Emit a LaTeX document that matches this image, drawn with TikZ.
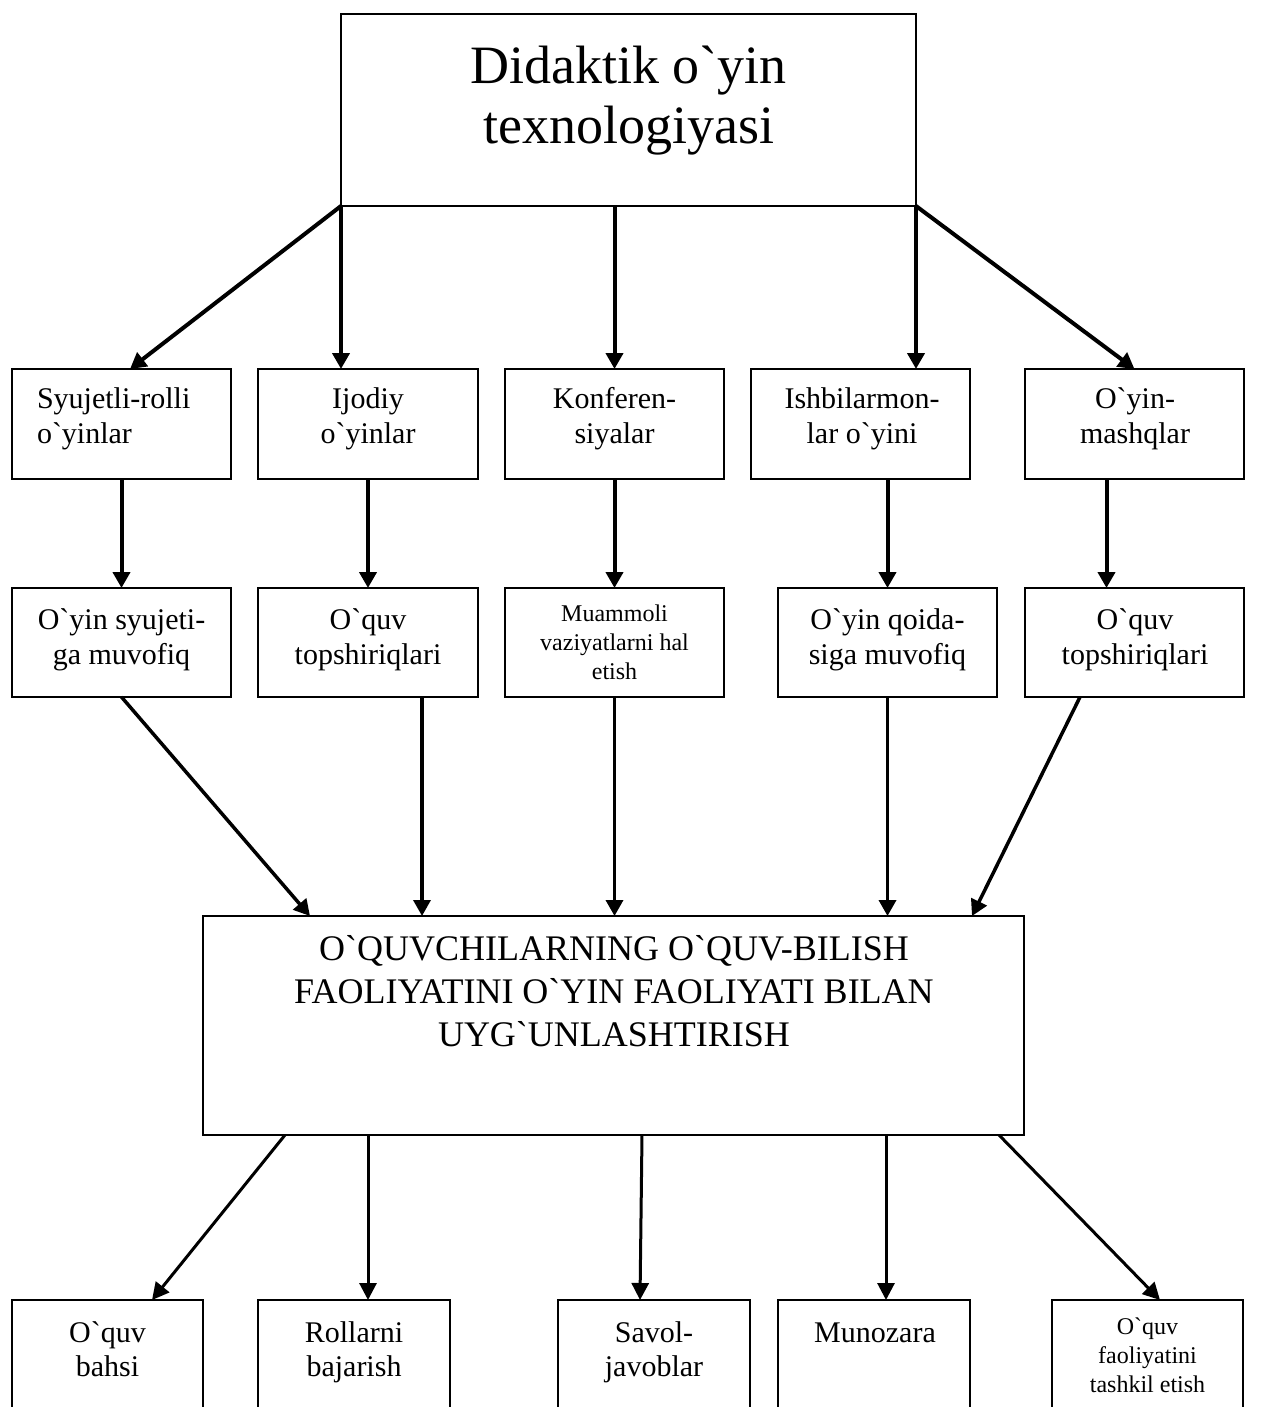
\documentclass[tikz,border=0pt]{standalone}
\usepackage{fontspec}
\setmainfont{Liberation Serif}[Ligatures=TeXOff]
\usetikzlibrary{arrows.meta,calc}
\newcommand\fsT{\fontsize{54}{60}\selectfont}
\newcommand\fsA{\fontsize{30}{35}\selectfont}
\newcommand\fsB{\fontsize{24}{29}\selectfont}
\newcommand\fsM{\fontsize{36}{43}\selectfont}
\newcommand\fsC{\fontsize{30}{34}\selectfont}
\tikzset{
  boxA/.style={draw, line width=2pt, inner sep=0pt, outer sep=0pt, rectangle},
  boxB/.style={draw, line width=2pt, inner sep=0pt, outer sep=0pt, rectangle},
  txt/.style={inner sep=0pt, outer sep=0pt, anchor=north, align=center},
  arrA/.style={line width=4pt, -{Triangle[length=16pt,width=17pt]}},
  arrM/.style={line width=3.5pt, -{Triangle[length=16pt,width=17pt]}},
  arrB/.style={line width=3pt, -{Triangle[length=17pt,width=17pt]}},
}
\begin{document}
\begin{tikzpicture}[x=1pt,y=-1pt]
\useasboundingbox (0,0) rectangle (1264,1407);
\clip (0,0) rectangle (1264,1407);
\fill[white] (0,0) rectangle (1264,1407);

% top box
\node[boxA, minimum width=575pt, minimum height=192pt] (t) at (628.5,110) {};
\node[txt, font=\fsT] (tt) at (628.5,42) {\strut Didaktik o`yin\\\strut texnologiyasi};

% row 1
\node[boxA, minimum width=219pt, minimum height=110pt] (r1a) at (121.5,424) {};
\node[boxA, minimum width=220pt, minimum height=110pt] (r1b) at (368,424) {};
\node[boxA, minimum width=219pt, minimum height=110pt] (r1c) at (614.5,424) {};
\node[boxA, minimum width=219pt, minimum height=110pt] (r1d) at (860.5,424) {};
\node[boxA, minimum width=219pt, minimum height=110pt] (r1e) at (1134.5,424) {};
\node[txt, font=\fsA, anchor=north west, align=left] (r1at) at (37,383.5) {\strut Syujetli-rolli\\\strut o`yinlar};
\node[txt, font=\fsA] (r1bt) at (368,383.5) {\strut Ijodiy\\\strut o`yinlar};
\node[txt, font=\fsA] (r1ct) at (614.5,383.5) {\strut Konferen-\\\strut siyalar};
\node[txt, font=\fsA] (r1dt) at (862,383.5) {\strut Ishbilarmon-\\\strut lar o`yini};
\node[txt, font=\fsA] (r1et) at (1135,383.5) {\strut O`yin-\\\strut mashqlar};

% row 2
\node[boxA, minimum width=219pt, minimum height=109pt] (r2a) at (121.5,642.5) {};
\node[boxA, minimum width=220pt, minimum height=109pt] (r2b) at (368,642.5) {};
\node[boxA, minimum width=219pt, minimum height=109pt] (r2c) at (614.5,642.5) {};
\node[boxA, minimum width=219pt, minimum height=109pt] (r2d) at (887.5,642.5) {};
\node[boxA, minimum width=219pt, minimum height=109pt] (r2e) at (1134.5,642.5) {};
\node[txt, font=\fsA] (r2at) at (121.5,604.5) {\strut O`yin syujeti-\\\strut ga muvofiq};
\node[txt, font=\fsA] (r2bt) at (368,604.5) {\strut O`quv\\\strut topshiriqlari};
\node[txt, font=\fsB] (r2ct) at (614.5,600.7) {\strut Muammoli\\\strut vaziyatlarni hal\\\strut etish};
\node[txt, font=\fsA] (r2dt) at (887.5,604.5) {\strut O`yin qoida-\\\strut siga muvofiq};
\node[txt, font=\fsA] (r2et) at (1135,604.5) {\strut O`quv\\\strut topshiriqlari};

% middle box
\node[boxA, minimum width=821pt, minimum height=219pt] (m) at (613.5,1025.5) {};
\node[txt, font=\fsM] (mt) at (614,929.9) {\strut O`QUVCHILARNING O`QUV-BILISH\\\strut FAOLIYATINI O`YIN FAOLIYATI BILAN\\\strut UYG`UNLASHTIRISH};

% bottom boxes
\node[boxB, minimum width=191pt, minimum height=150pt] (b1) at (107.5,1375) {};
\node[boxB, minimum width=192pt, minimum height=150pt] (b2) at (354,1375) {};
\node[boxB, minimum width=192pt, minimum height=150pt] (b3) at (654,1375) {};
\node[boxB, minimum width=192pt, minimum height=150pt] (b4) at (874,1375) {};
\node[boxB, minimum width=191pt, minimum height=150pt] (b5) at (1147.5,1375) {};
\node[txt, font=\fsC] (b1t) at (107.5,1318.2) {\strut O`quv\\\strut bahsi};
\node[txt, font=\fsC] (b2t) at (354,1318.2) {\strut Rollarni\\\strut bajarish};
\node[txt, font=\fsC] (b3t) at (654,1318.2) {\strut Savol-\\\strut javoblar};
\node[txt, font=\fsC] (b4t) at (875,1318.2) {\strut Munozara};
\node[txt, font=\fsB] (b5t) at (1147.5,1313.7) {\strut O`quv\\\strut faoliyatini\\\strut tashkil etish};

% arrows top -> row 1
\draw[arrA] (t.south west) -- ([xshift=8.5pt]r1a.north);
\draw[arrA] (t.south west) -- (t.south west |- r1b.north);
\draw[arrA] (r1c.north |- t.south) -- (r1c.north);
\draw[arrA] (t.south east) -- (t.south east |- r1d.north);
\draw[arrA] (t.south east) -- (r1e.north);

% row 1 -> row 2
\draw[arrA] (r1a.south) -- (r2a.north);
\draw[arrA] (r1b.south) -- (r2b.north);
\draw[arrA] (r1c.south) -- (r2c.north);
\draw[arrA] (r2d.north |- r1d.south) -- (r2d.north);
\draw[arrA] ([xshift=-28pt]r1e.south) -- ([xshift=-28pt]r2e.north);

% row 2 -> middle
\draw[arrM] (r2a.south) -- ([xshift=107pt]m.north west);
\draw[arrM] ([xshift=54pt]r2b.south) -- ([xshift=54pt]r2b.south |- m.north);
\draw[arrM] (r2c.south) -- (r2c.south |- m.north);
\draw[arrM] (r2d.south) -- (r2d.south |- m.north);
\draw[arrM] ([xshift=-54.5pt]r2e.south) -- ([xshift=-52pt]m.north east);

% middle -> bottom
\draw[arrB] ([xshift=82pt]m.south west) -- ([xshift=44.5pt]b1.north);
\draw[arrB] ([xshift=14pt]b2.north |- m.south) -- ([xshift=14pt]b2.north);
\draw[arrB] ([xshift=439pt]m.south west) -- ([xshift=-14pt]b3.north);
\draw[arrB] ([xshift=12pt]b4.north |- m.south) -- ([xshift=12pt]b4.north);
\draw[arrB] ([xshift=-25pt]m.south east) -- ([xshift=12.5pt]b5.north);
\end{tikzpicture}
\end{document}
